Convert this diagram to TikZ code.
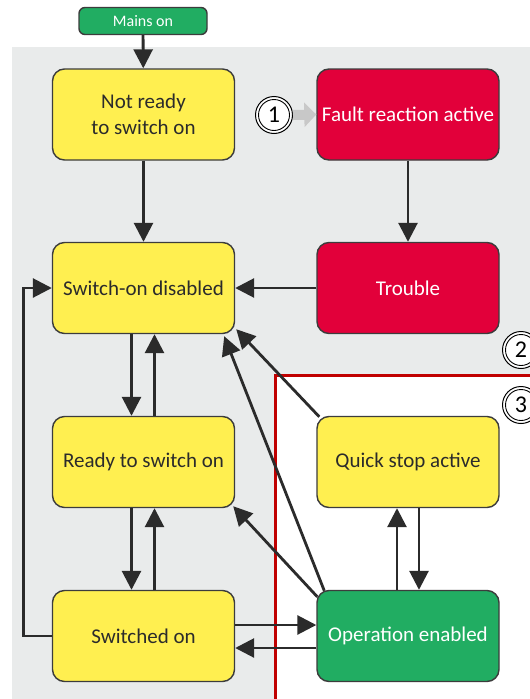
\documentclass[tikz,border=0pt]{standalone}
\usepackage{fontspec}
\setmainfont{Carlito}
\usetikzlibrary{arrows.meta}
\definecolor{bg}{HTML}{E9EBEB}
\definecolor{yel}{HTML}{FFEF50}
\definecolor{red1}{HTML}{E2003A}
\definecolor{grn}{HTML}{21AD62}
\definecolor{frame}{HTML}{C00000}
\definecolor{ink}{HTML}{2B2B2B}
\definecolor{border}{HTML}{3C3C3C}
\definecolor{hint}{HTML}{C8C8C8}
\begin{document}
\begin{tikzpicture}[x=1pt,y=-1pt,
 state/.style={draw=border, line width=1.4pt, rounded corners=12pt, minimum width=182pt, minimum height=91pt, align=center, font=\fontsize{21}{26}\selectfont, inner sep=0pt},
 ystate/.style={state, fill=yel, text=ink},
 rstate/.style={state, fill=red1, text=white},
 gstate/.style={state, fill=grn, text=white},
 arr/.style={draw=ink, line width=2.8pt, -{Triangle[length=19pt,width=19pt]}},
 numout/.style={circle, draw=black, line width=1pt, fill=white, minimum size=37pt, inner sep=0pt},
 numin/.style={circle, draw=black, line width=0.9pt, minimum size=31pt, inner sep=0pt, font=\fontsize{24}{24}\selectfont}]
\clip (0,0) rectangle (530,699);
\fill[white] (0,0) rectangle (530,699);
\fill[bg] (12,47) rectangle (530,699);
\fill[white] (275,375) rectangle (530,699);
\draw[frame, line width=3pt] (531,375) -- (275,375) -- (275,700);

\node[gstate, minimum width=128pt, minimum height=27pt, rounded corners=6pt, font=\fontsize{16}{16}\selectfont] (mains) at (143,21) {Mains on};
\node[ystate] (nr) at (143.5,114.5) {Not ready\\to switch on};
\node[rstate] (fra) at (408,114.5) {Fault reaction active};
\node[ystate] (sd) at (143.5,288) {Switch-on disabled};
\node[rstate] (tr) at (408,288) {Trouble};
\node[ystate] (rs) at (143.5,462) {Ready to switch on};
\node[ystate] (qs) at (408,462) {Quick stop active};
\node[ystate] (so) at (143.5,636) {Switched on};
\node[gstate] (op) at (408,636) {Operation enabled};

\node[numout] (n1) at (274,115) {};
\node[numin] at (n1) {1};
\node[numout] (n2) at (521,350) {};
\node[numin] at (n2) {2};
\node[numout] (n3) at (521,405) {};
\node[numin] at (n3) {3};

\draw[draw=hint, line width=10pt, -{Triangle[length=12pt,width=24pt]}] (n1.east) -- (fra.west);

\draw[arr] (mains) -- (nr);
\draw[arr] (nr) -- (sd);
\draw[arr] (fra) -- (tr);
\draw[arr] (tr) -- (sd);
\draw[arr] ([xshift=-12pt]sd.south) -- ([xshift=-12pt]rs.north);
\draw[arr] ([xshift=11pt]rs.north) -- ([xshift=11pt]sd.south);
\draw[arr] ([xshift=-12pt]rs.south) -- ([xshift=-12pt]so.north);
\draw[arr] ([xshift=11pt]so.north) -- ([xshift=11pt]rs.south);
\draw[arr] (so.west) -- ++(-28,0) |- (sd.west);
\draw[arr] ([yshift=11pt]so.east) -- ([yshift=11pt]op.west);
\draw[arr] ([yshift=-12pt]op.west) -- ([yshift=-12pt]so.east);
\draw[arr] ([xshift=-11pt]op.north) -- ([xshift=-11pt]qs.south);
\draw[arr] ([xshift=11pt]qs.south) -- ([xshift=11pt]op.north);
\draw[arr] ([shift={(3pt,-1pt)}]qs.north west) -- ([shift={(1pt,5pt)}]sd.south east);
\draw[arr] ([shift={(8pt,-1pt)}]op.north west) -- ([shift={(-11pt,-2pt)}]sd.south east);
\draw[arr] ([shift={(1pt,-7pt)}]op.north west) -- ([shift={(-2pt,2pt)}]rs.south east);
\end{tikzpicture}
\end{document}
